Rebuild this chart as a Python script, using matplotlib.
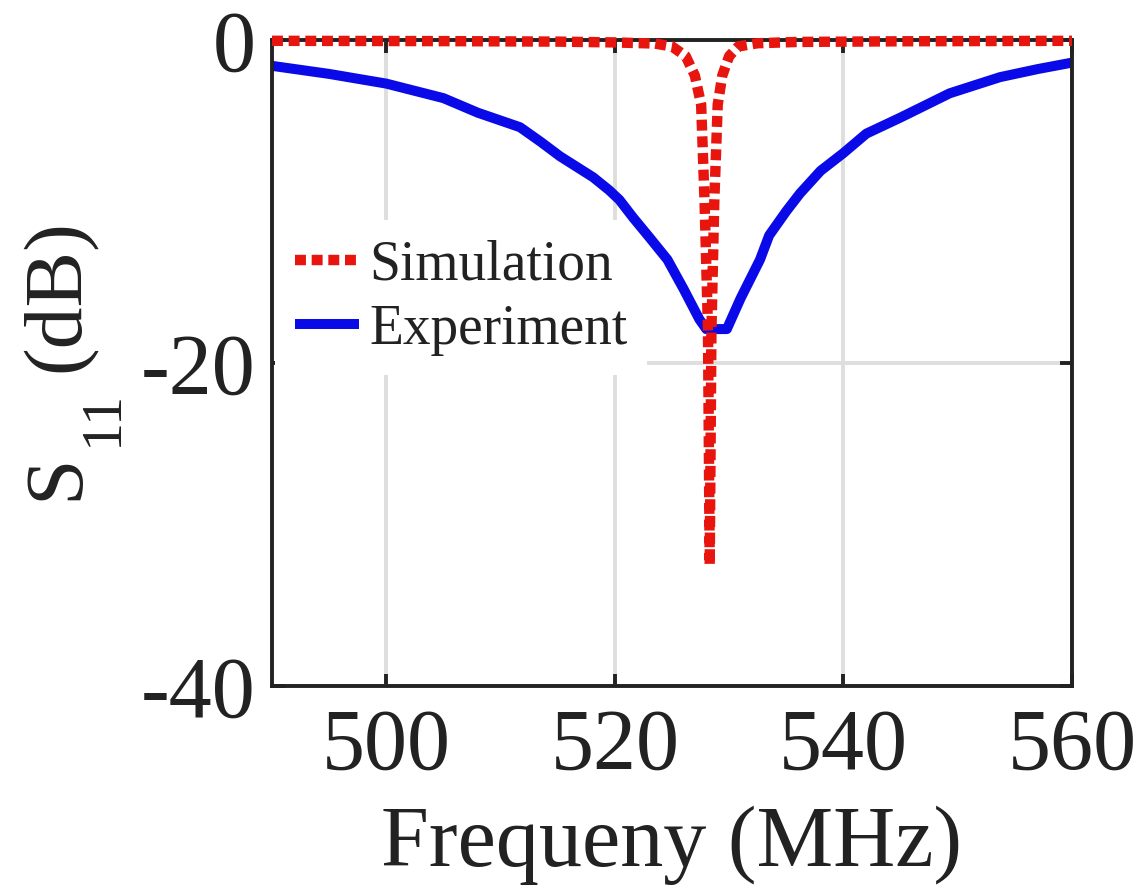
import matplotlib
matplotlib.use("Agg")
import matplotlib.pyplot as plt

# Data
sim_freq = [490, 505, 515, 520, 523.5, 525.0, 526.2, 527.0, 527.55, 527.85, 528.15,
            528.3, 528.45, 528.7, 529.0, 529.4, 530.0, 530.8, 532.5, 536, 545, 560]
sim_s11 = [-0.05, -0.07, -0.1, -0.15, -0.22, -0.4, -1.0, -2.2, -4, -10, -18,
           -32.5, -18, -10, -4, -2.2, -1.0, -0.4, -0.2, -0.12, -0.08, -0.05]

exp_freq = [490, 495, 500, 505, 508, 511.7, 513.5, 515.2, 518.1, 519.5, 520.4,
            521.6, 523, 524.6, 526, 527.4, 528, 529.8, 531, 532.7, 533.5, 535,
            536.2, 538, 540, 542, 545, 549.3, 553.7, 557, 560]
exp_s11 = [-1.6, -2.1, -2.7, -3.6, -4.5, -5.4, -6.3, -7.2, -8.5, -9.3, -9.9,
           -11.0, -12.2, -13.6, -15.4, -17.3, -17.9, -17.9, -16.0, -13.6, -12.1, -10.6,
           -9.5, -8.1, -7.0, -5.8, -4.8, -3.3, -2.3, -1.8, -1.4]

x_ticks = [500, 520, 540, 560]
y_ticks = [-40, -20, 0]

plt.rcParams['font.family'] = ['Liberation Serif', 'DejaVu Serif']

W, H = 1140, 896
fig = plt.figure(figsize=(W / 100, H / 100), dpi=100)
ax = fig.add_axes([272 / W, 1 - 686 / H, 800 / W, 646 / H])

ink = '#222222'

ax.plot(sim_freq, sim_s11, color='#e8150f', lw=7.5, dashes=(1.05, 0.55),
        dash_capstyle='butt', label='Simulation', zorder=3, clip_on=False)
ax.plot(exp_freq, exp_s11, color='#0a0ae8', lw=7.2, solid_capstyle='butt',
        solid_joinstyle='round', label='Experiment', zorder=2)

ax.set_xlim(490, 560)
ax.set_ylim(-40, 0)
ax.set_xticks(x_ticks)
ax.set_yticks(y_ticks)
ax.set_xticklabels([str(v) for v in x_ticks])
ax.set_yticklabels([str(v) for v in y_ticks])

ax.grid(True, color='#dedede', lw=2.8)
ax.set_axisbelow(True)
for s in ax.spines.values():
    s.set_linewidth(2.8)
    s.set_color(ink)
    s.set_zorder(2.5)

ax.tick_params(direction='in', length=9, width=2.8, top=True, right=True,
               labelsize=62, colors=ink)
ax.tick_params(axis='x', pad=16)
ax.tick_params(axis='y', pad=12)

# x label
fig.text(672 / W, 1 - 866 / H, 'Frequeny (MHz)', fontsize=62, color=ink,
         ha='center', va='baseline')

# y label: S, subscript 11, (dB)  (rotated)
fig.text(77 / W, 1 - 500 / H, 'S', fontsize=60, color=ink, rotation=90,
         rotation_mode='anchor', ha='left', va='baseline')
fig.text(117 / W, 1 - 446 / H, '11', fontsize=42, color=ink, rotation=90,
         rotation_mode='anchor', ha='left', va='baseline')
fig.text(79 / W, 1 - 372 / H, '(dB)', fontsize=60, color=ink, rotation=90,
         rotation_mode='anchor', ha='left', va='baseline')

leg = ax.legend(loc='upper left', bbox_to_anchor=(0.004, (686 - 220) / 646),
                frameon=True, fontsize=40, handlelength=1.15, handletextpad=0.2,
                borderpad=0.35, labelspacing=0.22, borderaxespad=0.0)
leg.get_frame().set_edgecolor('none')
leg.get_frame().set_facecolor('white')
leg.get_frame().set_alpha(1.0)
leg.set_zorder(1.5)
for t in leg.get_texts():
    t.set_color(ink)

fig.savefig('out.png', dpi=100)
